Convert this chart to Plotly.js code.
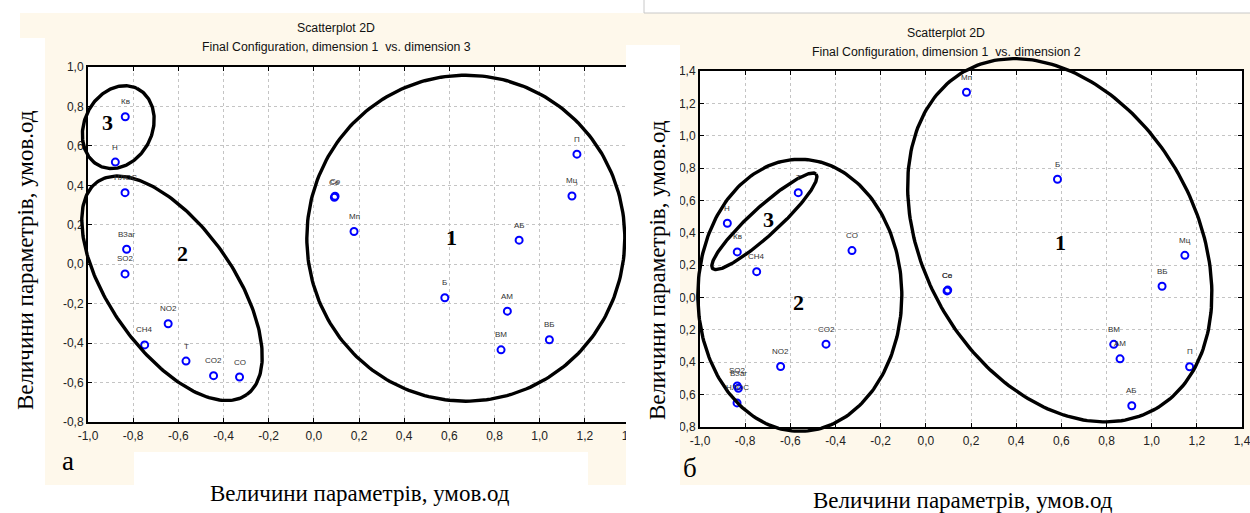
<!DOCTYPE html>
<html><head><meta charset="utf-8">
<script src="https://cdn.plot.ly/plotly-3.0.1.min.js"></script>
<style>html,body{margin:0;padding:0;background:#fff}#chart{width:1250px;height:513px}</style>
</head><body><div id="chart"></div>
<script>
// ---------- DATA ----------
// Panel "а": dimension 1 vs dimension 3
const labelsA = ['Кв','Н','НЛОС','ВЗаг','SO2','NO2','CH4','Т','CO2','CO','Се','Со','Мп','П','Мц','АБ','Б','АМ','ВМ','ВБ'];
const dim1A = [-0.835,-0.879,-0.836,-0.829,-0.836,-0.645,-0.749,-0.566,-0.444,-0.329,0.091,0.094,0.178,1.165,1.143,0.909,0.580,0.857,0.829,1.043];
const dim3A = [0.748,0.518,0.363,0.076,-0.049,-0.302,-0.409,-0.491,-0.565,-0.572,0.339,0.345,0.166,0.558,0.346,0.122,-0.170,-0.238,-0.434,-0.383];

// Panel "б": dimension 1 vs dimension 2
const labelsB = ['Мп','Б','Мц','ВБ','Се','Со','ВМ','АМ','П','АБ','Т','Н','Кв','CO','CH4','CO2','NO2','SO2','ВЗаг','НЛОС'];
const dim1B = [0.180,0.583,1.147,1.046,0.094,0.097,0.832,0.860,1.168,0.912,-0.565,-0.879,-0.835,-0.327,-0.749,-0.442,-0.643,-0.835,-0.830,-0.836];
const dim2B = [1.269,0.731,0.261,0.070,0.041,0.046,-0.289,-0.379,-0.428,-0.669,0.648,0.459,0.282,0.290,0.160,-0.288,-0.426,-0.546,-0.561,-0.651];

// Tick labels
const xTickVals = [-1.0,-0.8,-0.6,-0.4,-0.2,0.0,0.2,0.4,0.6,0.8,1.0,1.2,1.4];
const xTickText = ['-1,0','-0,8','-0,6','-0,4','-0,2','0,0','0,2','0,4','0,6','0,8','1,0','1,2','1,4'];
const yTickValsA = [-0.8,-0.6,-0.4,-0.2,0.0,0.2,0.4,0.6,0.8,1.0];
const yTickTextA = ['-0,8','-0,6','-0,4','-0,2','0,0','0,2','0,4','0,6','0,8','1,0'];
const yTickValsB = [-0.8,-0.6,-0.4,-0.2,0.0,0.2,0.4,0.6,0.8,1.0,1.2,1.4];
const yTickTextB = ['-0,8','-0,6','-0,4','-0,2','0,0','0,2','0,4','0,6','0,8','1,0','1,2','1,4'];

// Cluster numbers and their label positions (data units)
const groupNames = ['1','2','3'];
const groupLabelXA = [0.611,-0.580,-0.912];
const groupLabelYA = [0.133,0.052,0.721];
const groupLabelXB = [0.598,-0.562,-0.695];
const groupLabelYB = [0.343,-0.028,0.485];

// Cluster ellipses: centre (data units), semi-axes (px), rotation (deg, clockwise on screen)
const ellipsesA = [
  {cx:0.673, cy:0.132, a:159, b:163, rot:0},
  {cx:-0.628, cy:-0.122, a:130, b:62, rot:55},
  {cx:-0.866, cy:0.695, a:43, b:34, rot:-64}
];
const ellipsesB = [
  {cx:0.593, cy:0.354, a:194, b:136, rot:60.5},
  {cx:-0.558, cy:0.014, a:102, b:136, rot:0},
  {cx:-0.715, cy:0.471, a:70, b:14, rot:-42.4}
];

const titleTop = 'Scatterplot 2D';
const subTitleA = 'Final Configuration, dimension 1  vs. dimension 3';
const subTitleB = 'Final Configuration, dimension 1  vs. dimension 2';
const axisTitle = 'Величини параметрів, умов.од';

// ---------- LAYOUT GEOMETRY ----------
const W = 1250, H = 513;
const px = v => v / W;
const py = v => 1 - v / H;
const boxA = {x0:88, x1:630, y0:67, y1:422, xr:[-1.0,1.4], yr:[-0.8,1.0]};
const boxB = {x0:700, x1:1242, y0:71, y1:427, xr:[-1.0,1.4], yr:[-0.8,1.4]};
const pad = {A:{l:30,r:0,t:30,b:30}, B:{l:30,r:8,t:30,b:30}};

function scale(box){
  return {sx:(box.x1-box.x0)/(box.xr[1]-box.xr[0]), sy:(box.y1-box.y0)/(box.yr[1]-box.yr[0])};
}
function ellipseTrace(e, box, xa, ya){
  const s = scale(box), th = e.rot*Math.PI/180, xs=[], ys=[];
  for (let i=0;i<=240;i++){
    const t = 2*Math.PI*i/240;
    const u = e.a*Math.cos(t), v = e.b*Math.sin(t);
    const dx = u*Math.cos(th) - v*Math.sin(th);
    const dy = u*Math.sin(th) + v*Math.cos(th);
    xs.push(e.cx + dx/s.sx); ys.push(e.cy - dy/s.sy);
  }
  return {type:'scatter', mode:'lines', x:xs, y:ys, xaxis:xa, yaxis:ya,
    line:{color:'#000', width:3.4}, hoverinfo:'skip', showlegend:false};
}

const tickFont = {family:'Liberation Sans, Arial, sans-serif', size:12, color:'#222'};
function mainAxis(box, isX, vals, text){
  const d = isX ? [px(box.x0), px(box.x1)] : [py(box.y1), py(box.y0)];
  return {domain:d, range:isX?box.xr:box.yr, tickmode:'array', tickvals:vals, ticktext:text,
    showline:true, linecolor:'#000', linewidth:2, mirror:'ticks', ticks:'inside', ticklen:4,
    tickcolor:'#000', tickwidth:1, showgrid:true, gridcolor:'#c4c4c4', griddash:'dot', gridwidth:1,
    zeroline:false, tickfont:tickFont, fixedrange:true, ticklabelstandoff:isX?2:0,
    ticklabeloverflow:'allow'};
}
function extAxis(box, p, isX){
  const s = scale(box);
  if (isX) return {domain:[px(box.x0-p.l), px(box.x1+p.r)],
    range:[box.xr[0]-p.l/s.sx, box.xr[1]+p.r/s.sx], visible:false, fixedrange:true};
  return {domain:[py(box.y1+p.b), py(box.y0-p.t)],
    range:[box.yr[0]-p.b/s.sy, box.yr[1]+p.t/s.sy], visible:false, fixedrange:true};
}

const marker = {symbol:'circle-open', size:7, color:'#0000ff', line:{width:2, color:'#0000ff'}};
const traces = [
  {type:'scatter', mode:'markers', x:dim1A, y:dim3A, xaxis:'x', yaxis:'y', marker:marker, cliponaxis:false, hoverinfo:'text', text:labelsA},
  {type:'scatter', mode:'markers', x:dim1B, y:dim2B, xaxis:'x2', yaxis:'y2', marker:marker, cliponaxis:false, hoverinfo:'text', text:labelsB}
];
ellipsesA.forEach(e => traces.push(ellipseTrace(e, boxA, 'x3', 'y3')));
ellipsesB.forEach(e => traces.push(ellipseTrace(e, boxB, 'x4', 'y4')));

const annotations = [];
const lblFont = {family:'Liberation Sans, Arial, sans-serif', size:8, color:'#333'};
labelsA.forEach((t,i) => annotations.push({xref:'x', yref:'y', x:dim1A[i], y:dim3A[i], text:t, showarrow:false, yshift:15, font:lblFont}));
labelsB.forEach((t,i) => annotations.push({xref:'x2', yref:'y2', x:dim1B[i], y:dim2B[i], text:t, showarrow:false, yshift:15, font:lblFont}));
const grpFont = {family:'Liberation Serif, Times New Roman, serif', size:22, color:'#000'};
groupNames.forEach((g,i) => {
  annotations.push({xref:'x', yref:'y', x:groupLabelXA[i], y:groupLabelYA[i], text:'<b>'+g+'</b>', showarrow:false, font:grpFont});
  annotations.push({xref:'x2', yref:'y2', x:groupLabelXB[i], y:groupLabelYB[i], text:'<b>'+g+'</b>', showarrow:false, font:grpFont});
});
const tFont = {family:'Liberation Sans, Arial, sans-serif', size:12.3, color:'#111'};
const serif = {family:'Liberation Serif, Times New Roman, serif', size:23, color:'#000'};
function paperText(x, y, text, font, extra){
  return Object.assign({xref:'paper', yref:'paper', x:px(x), y:py(y), text:text, showarrow:false, font:font, xanchor:'center', yanchor:'middle'}, extra||{});
}
annotations.push(paperText(336, 28, titleTop, tFont));
annotations.push(paperText(336, 47, subTitleA, tFont));
annotations.push(paperText(946, 33, titleTop, tFont));
annotations.push(paperText(946, 52, subTitleB, tFont));
annotations.push(paperText(25, 260, axisTitle, serif, {textangle:-90}));
annotations.push(paperText(657, 270, axisTitle, serif, {textangle:-90}));
annotations.push(paperText(360, 493, axisTitle, serif));
annotations.push(paperText(963, 500, axisTitle, serif));
annotations.push(paperText(68, 461, 'а', {family:'Liberation Serif, serif', size:27, color:'#000'}));
annotations.push(paperText(690, 468, 'б', {family:'Liberation Serif, serif', size:27, color:'#000'}));

function rect(x0,y0,x1,y1,color,layer){
  return {type:'rect', xref:'paper', yref:'paper', x0:px(x0), x1:px(x1), y0:py(y1), y1:py(y0),
    fillcolor:color, line:{width:0}, layer:layer||'below'};
}
const cream = '#fef8eb';
const shapes = [
  rect(20,13,1250,485,cream),
  rect(0,38,45,513,'#ffffff'),
  rect(134,452,588,490,'#ffffff'),
  rect(boxA.x0,boxA.y0,boxA.x1,boxA.y1,'#ffffff'),
  rect(boxB.x0,boxB.y0,boxB.x1,boxB.y1,'#ffffff'),
  rect(626,45,680,490,'#ffffff','above'),
  {type:'line', xref:'paper', yref:'paper', x0:px(644), x1:px(1250), y0:py(13), y1:py(13), line:{color:'#c8c8c8', width:1}, layer:'below'},
  {type:'line', xref:'paper', yref:'paper', x0:px(644), x1:px(644), y0:py(0), y1:py(13), line:{color:'#c8c8c8', width:1}, layer:'below'}
];

const layout = {
  width:W, height:H, margin:{l:0,r:0,t:0,b:0},
  paper_bgcolor:'#ffffff', plot_bgcolor:'rgba(0,0,0,0)', showlegend:false,
  xaxis: Object.assign(mainAxis(boxA, true, xTickVals, xTickText), {anchor:'y'}),
  yaxis: Object.assign(mainAxis(boxA, false, yTickValsA, yTickTextA), {anchor:'x'}),
  xaxis2: Object.assign(mainAxis(boxB, true, xTickVals, xTickText), {anchor:'y2'}),
  yaxis2: Object.assign(mainAxis(boxB, false, yTickValsB, yTickTextB), {anchor:'x2'}),
  xaxis3: Object.assign(extAxis(boxA, pad.A, true), {anchor:'y3'}),
  yaxis3: Object.assign(extAxis(boxA, pad.A, false), {anchor:'x3'}),
  xaxis4: Object.assign(extAxis(boxB, pad.B, true), {anchor:'y4'}),
  yaxis4: Object.assign(extAxis(boxB, pad.B, false), {anchor:'x4'}),
  annotations: annotations, shapes: shapes
};

Plotly.newPlot('chart', traces, layout, {staticPlot:true, displayModeBar:false});
</script></body></html>
